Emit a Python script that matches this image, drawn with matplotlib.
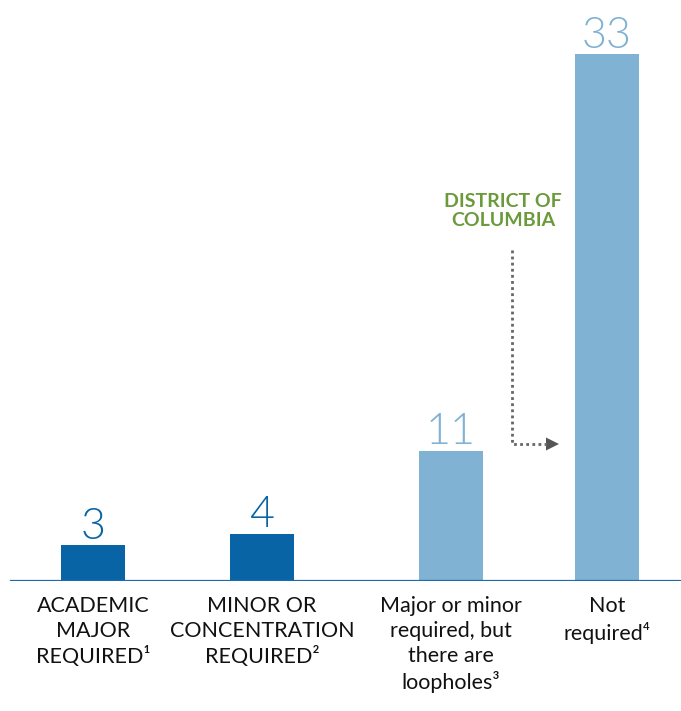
import matplotlib
matplotlib.use("Agg")
import matplotlib.pyplot as plt
import numpy as np
from matplotlib.patches import Polygon

plt.rcParams["font.family"] = ["Lato", "DejaVu Sans"]

categories = ["ACADEMIC\nMAJOR\nREQUIRED\u00b9",
              "MINOR OR\nCONCENTRATION\nREQUIRED\u00b2",
              "Major or minor\nrequired, but\nthere are\nloopholes\u00b3",
              "Not\nrequired\u2074"]
counts = [3, 4, 11, 33]
bar_colors = ["#0864a5", "#0864a5", "#7fb2d3", "#7fb2d3"]

# layout (pixel units across the figure)
xpos = [93, 262, 451, 607]
W, H = 681, 711
base_px = 581

# the tall bar is drawn with a stretched upper range, as in the original
k = 1.52
def fwd(y):
    y = np.asarray(y, dtype=float)
    return np.where(y <= 11, y, 11 + (y - 11) * k)
def inv(y):
    y = np.asarray(y, dtype=float)
    return np.where(y <= 11, y, 11 + (y - 11) / k)

fig = plt.figure(figsize=(W / 100, H / 100), dpi=100)
ax = fig.add_axes([0, (H - base_px) / H, 1, base_px / H])
ax.set_yscale("function", functions=(fwd, inv))
ax.set_xlim(0, W)
ax.set_ylim(0, float(inv(base_px / 11.85)))

ax.bar(xpos, counts, width=64, color=bar_colors, zorder=2)
ax.axhline(0, xmin=11 / W, xmax=1, color="#1f6aad", lw=1.6, zorder=3)

for x, v, c in zip(xpos, counts, bar_colors):
    ax.annotate(str(v), (x, v), xytext=(0, 4.5), textcoords="offset points",
                ha="center", va="baseline", fontsize=31, color=c,
                fontweight=300)

ax.set_xticks(xpos)
ax.set_xticklabels(categories, fontsize=15.5, color="#111111", linespacing=1.3)
ax.tick_params(axis="x", length=0, pad=11)
ax.set_yticks([])
ax.minorticks_off()
for s in ax.spines.values():
    s.set_visible(False)

def px(x, y):
    return (x / W, 1 - y / H)

fig.text(*px(503, 193), "DISTRICT OF\nCOLUMBIA", ha="center", va="top",
         fontsize=14, fontweight="bold", color="#6a9a3a", linespacing=1.15)

xs, ys = zip(px(512, 250), px(512, 444), px(547, 444))
fig.add_artist(plt.Line2D(xs, ys, transform=fig.transFigure, color="#666666",
                          lw=2, linestyle=(0, (1, 1.2))))
fig.add_artist(Polygon([px(546, 437.5), px(559, 444), px(546, 450.5)],
                       closed=True, transform=fig.transFigure,
                       facecolor="#555555", edgecolor="none"))

fig.savefig("out.png", dpi=100)
